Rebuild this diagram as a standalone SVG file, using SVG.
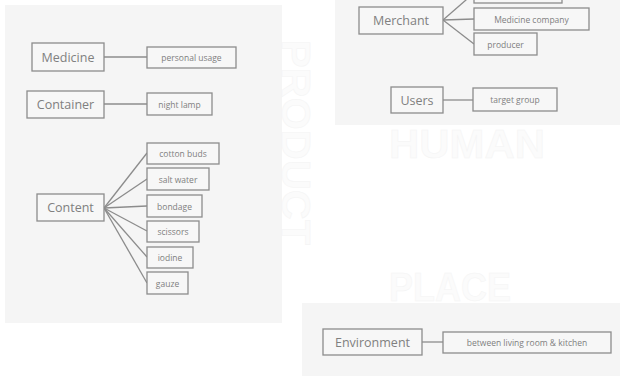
<svg xmlns="http://www.w3.org/2000/svg" width="620" height="376" viewBox="0 0 620 376">
<style>
.bg{fill:#f5f5f5}
.box{fill:#f7f7f7;stroke:#8c8c8c;stroke-width:1.3}
.main{font-family:"Open Sans","Liberation Sans",sans-serif;font-size:12.5px;fill:#808080;text-anchor:middle;dominant-baseline:central}
.sub{font-family:"Open Sans","Liberation Sans",sans-serif;font-size:8.5px;fill:#808080;text-anchor:middle;dominant-baseline:central}
.big{font-family:"Liberation Sans","Open Sans",sans-serif;font-weight:bold;font-size:40px;fill:#fbfbfb;stroke:#f4f4f4;stroke-width:0.5}
.conn line{stroke:#8c8c8c;stroke-width:1.3}
</style>
<rect width="620" height="376" fill="#ffffff"/>
<rect class="bg" x="5" y="5" width="277" height="318"/>
<rect class="bg" x="335" y="0" width="285" height="125"/>
<rect class="bg" x="302" y="303" width="318" height="73"/>
<text class="big" x="389" y="158" textLength="156" lengthAdjust="spacingAndGlyphs">HUMAN</text>
<text class="big" x="389" y="301" textLength="122" lengthAdjust="spacingAndGlyphs">PLACE</text>
<text class="big" transform="translate(282,40) rotate(90)" x="0" y="0" textLength="205" lengthAdjust="spacingAndGlyphs">PRODUCT</text>
<g class="conn">
<line x1="104" y1="57" x2="147" y2="57"/>
<line x1="104" y1="104" x2="147" y2="104"/>
<line x1="104" y1="208" x2="147" y2="153"/>
<line x1="104" y1="208" x2="147" y2="179"/>
<line x1="104" y1="208" x2="147" y2="206"/>
<line x1="104" y1="208" x2="147" y2="231"/>
<line x1="104" y1="208" x2="147" y2="257"/>
<line x1="104" y1="208" x2="147" y2="283"/>
<line x1="443" y1="20" x2="474" y2="-7"/>
<line x1="443" y1="20" x2="474" y2="19"/>
<line x1="443" y1="20" x2="474" y2="44"/>
<line x1="443" y1="100" x2="473" y2="100"/>
<line x1="422" y1="342" x2="443" y2="342"/>
</g>
<g id="medicine"><rect class="box" x="32" y="43" width="72" height="28"/><text class="main" x="68" y="57">Medicine</text></g>
<g id="personal-usage"><rect class="box" x="147" y="47" width="89" height="21"/><text class="sub" x="191.5" y="57.5">personal usage</text></g>
<g id="container"><rect class="box" x="27" y="91" width="77" height="27"/><text class="main" x="65.5" y="104.5">Container</text></g>
<g id="night-lamp"><rect class="box" x="147" y="93" width="65" height="22"/><text class="sub" x="179.5" y="104">night lamp</text></g>
<g id="content"><rect class="box" x="37" y="194" width="67" height="27"/><text class="main" x="70.5" y="207.5">Content</text></g>
<g id="cotton-buds"><rect class="box" x="147" y="143" width="72" height="21"/><text class="sub" x="183" y="153.5">cotton buds</text></g>
<g id="salt-water"><rect class="box" x="147" y="168" width="62" height="22"/><text class="sub" x="178" y="179">salt water</text></g>
<g id="bondage"><rect class="box" x="147" y="195" width="55" height="22"/><text class="sub" x="174.5" y="206">bondage</text></g>
<g id="scissors"><rect class="box" x="147" y="221" width="52" height="21"/><text class="sub" x="173" y="231.5">scissors</text></g>
<g id="iodine"><rect class="box" x="147" y="247" width="46" height="21"/><text class="sub" x="170" y="257.5">iodine</text></g>
<g id="gauze"><rect class="box" x="147" y="272" width="41" height="22"/><text class="sub" x="167.5" y="283">gauze</text></g>
<g id="merchant"><rect class="box" x="359" y="7" width="84" height="27"/><text class="main" x="401" y="20.5">Merchant</text></g>
<g id="merchant-top"><rect class="box" x="474" y="-18" width="88" height="21"/></g>
<g id="medicine-company"><rect class="box" x="474" y="8" width="115" height="22"/><text class="sub" x="531.5" y="19">Medicine company</text></g>
<g id="producer"><rect class="box" x="474" y="33" width="63" height="22"/><text class="sub" x="505.5" y="44">producer</text></g>
<g id="users"><rect class="box" x="391" y="87" width="52" height="26"/><text class="main" x="417" y="100">Users</text></g>
<g id="target-group"><rect class="box" x="473" y="88" width="84" height="23"/><text class="sub" x="515" y="99.5">target group</text></g>
<g id="environment"><rect class="box" x="323" y="329" width="99" height="26"/><text class="main" x="372.5" y="342">Environment</text></g>
<g id="between"><rect class="box" x="443" y="332" width="168" height="21"/><text class="sub" x="527" y="342.5">between living room &amp; kitchen</text></g>
</svg>
